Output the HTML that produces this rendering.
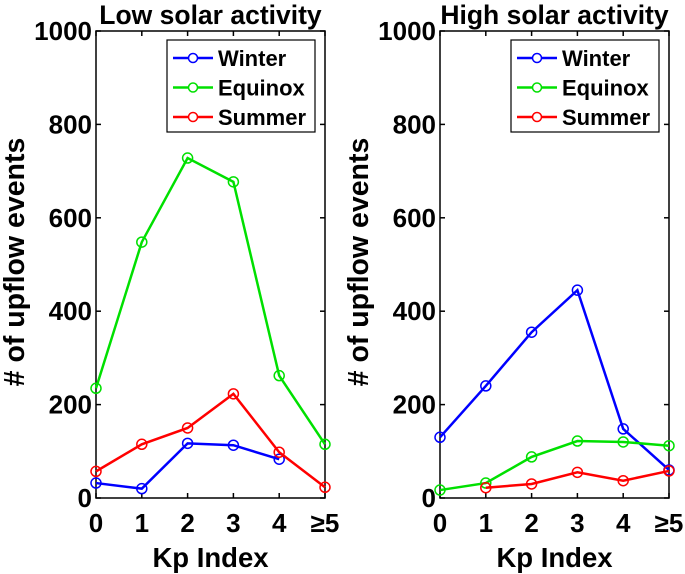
<!DOCTYPE html>
<html><head><meta charset="utf-8"><style>
body{margin:0;background:#fff;}
svg{display:block;font-family:"Liberation Sans",Arial,sans-serif;font-weight:bold;}
</style></head><body>
<svg id="chart" width="685" height="574" viewBox="0 0 685 574"></svg>
<script>
const categories=["0","1","2","3","4","≥5"];
const yTicks=[0,200,400,600,800,1000];
const seriesNames=["Winter","Equinox","Summer"];
const seriesColors=["#0000ff","#00e000","#ff0000"];
const lowWinter=[32,20,117,113,83,null];
const lowEquinox=[235,548,728,677,262,115];
const lowSummer=[57,115,150,223,98,23];
const highWinter=[130,240,355,445,148,60];
const highEquinox=[17,32,88,122,120,112];
const highSummer=[null,22,30,55,37,58];
const panels=[
 {title:"Low solar activity",x0:96,x1:325,series:[lowWinter,lowEquinox,lowSummer],key:"low"},
 {title:"High solar activity",x0:440,x1:669,series:[highWinter,highEquinox,highSummer],key:"high"}
];
const Y0=498,Y1=31;
const NS="http://www.w3.org/2000/svg";
const svg=document.getElementById('chart');
function mk(t,a,p){const e=document.createElementNS(NS,t);for(const k in a)e.setAttribute(k,a[k]);(p||svg).appendChild(e);return e;}
function yS(v){return Y0-(v/1000)*(Y0-Y1);}
panels.forEach(p=>{
 const xS=i=>p.x0+i*(p.x1-p.x0)/(categories.length-1);
 const g=mk('g',{});
 
 
 const t=mk('text',{x:(p.x0+p.x1)/2,y:24,'text-anchor':'middle','font-size':26.5},g);t.textContent=p.title;
 
 
 const f=mk('rect',{x:p.x0,y:Y1,width:p.x1-p.x0,height:Y0-Y1,fill:'none',stroke:'#000','stroke-width':1.5},g);
 
 
 yTicks.forEach(v=>{
  const y=yS(v);
  mk('line',{x1:p.x0,x2:p.x0+5,y1:y,y2:y,stroke:'#000','stroke-width':1.5},g);
  mk('line',{x1:p.x1,x2:p.x1-5,y1:y,y2:y,stroke:'#000','stroke-width':1.5},g);
  const l=mk('text',{x:p.x0-4,y:y+9,'text-anchor':'end','font-size':26},g);l.textContent=v;
  
  
 });
 categories.forEach((c,i)=>{
  const x=xS(i);
  mk('line',{x1:x,x2:x,y1:Y0,y2:Y0-5,stroke:'#000','stroke-width':1.5},g);
  mk('line',{x1:x,x2:x,y1:Y1,y2:Y1+5,stroke:'#000','stroke-width':1.5},g);
  const l=mk('text',{x:x,y:532,'text-anchor':'middle','font-size':26},g);l.textContent=c;
  
  
 });
 const xl=mk('text',{x:(p.x0+p.x1)/2,y:567,'text-anchor':'middle','font-size':27.5},g);xl.textContent="Kp Index";
 
 
 const yx=p.x0-72;
 const yl=mk('text',{x:yx,y:262,'text-anchor':'middle','font-size':28.5,transform:`rotate(-90 ${yx} 262)`},g);yl.textContent="# of upflow events";
 
 
 p.series.forEach((s,si)=>{
  let d='';let started=false;
  s.forEach((v,i)=>{if(v==null){started=false;return;}d+=(started?'L':'M')+xS(i)+' '+yS(v)+' ';started=true;});
  const pa=mk('path',{d:d,fill:'none',stroke:seriesColors[si],'stroke-width':2.5},g);
  
  
  s.forEach((v,i)=>{if(v==null)return;
   const c=mk('circle',{cx:xS(i),cy:yS(v),r:5,fill:'none',stroke:seriesColors[si],'stroke-width':1.5},g);
   
   
  });
 });
 const lx=p.x0+71;
 const lg=mk('g',{},g);
 
 
 mk('rect',{x:lx,y:40,width:148,height:92,fill:'#fff',stroke:'#000','stroke-width':1.2},lg);
 seriesNames.forEach((n,i)=>{
  const y=58+i*29.5;
  mk('line',{x1:lx+6,x2:lx+46,y1:y,y2:y,stroke:seriesColors[i],'stroke-width':2.5},lg);
  mk('circle',{cx:lx+26,cy:y,r:4.5,fill:'#fff',stroke:seriesColors[i],'stroke-width':1.5},lg);
  const e=mk('text',{x:lx+51,y:y+8,'font-size':22},lg);e.textContent=n;
  
  
 });
});
</script>
</body></html>
